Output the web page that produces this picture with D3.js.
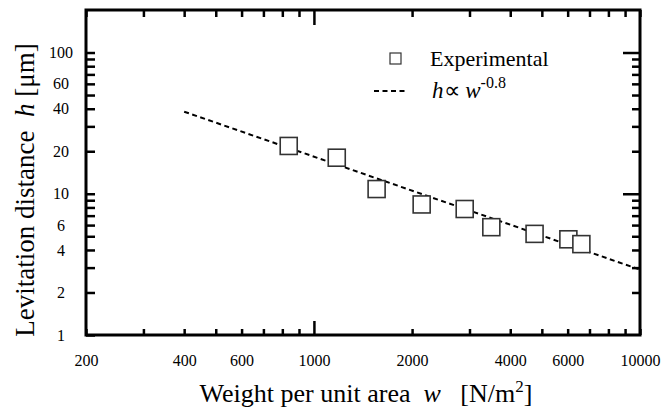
<!DOCTYPE html>
<html>
<head>
<meta charset="utf-8">
<script src="https://cdn.jsdelivr.net/npm/d3@7"></script>
<style>
  body { margin: 0; background: #fff; }
  svg { font-family: "Liberation Serif", "Times New Roman", serif; }
  text { white-space: pre; }
</style>
</head>
<body>
<div id="chart"></div>
<script>
// data
const weight = [837, 1175, 1557, 2140, 2900, 3500, 4750, 6030, 6610];
const distance = [21.8, 18.0, 10.8, 8.4, 7.8, 5.8, 5.2, 4.76, 4.4];

// fitted line h = C * w^-0.8
const fitW = [400, 10000];
const fitC = 4600;
const fitExp = -0.8;

const xTicks = [200, 300, 400, 500, 600, 700, 800, 900, 1000,
    2000, 3000, 4000, 5000, 6000, 7000, 8000, 9000, 10000];
const xLabels = [200, 400, 600, 1000, 2000, 4000, 6000, 10000];
const yTicks = [1, 2, 3, 4, 5, 6, 7, 8, 9, 10,
    20, 30, 40, 50, 60, 70, 80, 90, 100];
const yLabels = [1, 2, 4, 6, 10, 20, 40, 60, 100];

const W = 664, H = 412;
const margin = {top: 10, right: 24, bottom: 77, left: 86};
const width = W - margin.left - margin.right,
    height = H - margin.top - margin.bottom;

const svg = d3.select('#chart').append('svg')
    .attr('width', W)
    .attr('height', H);

const g = svg.append('g')
    .attr('transform', 'translate(' + margin.left + ',' + margin.top + ')');

const x = d3.scaleLog().domain([200, 10000]).range([0, width]);
const y = d3.scaleLog().domain([1, 200]).range([height, 0]);

function fmt(list) {
    return d => list.indexOf(d) >= 0 ? String(d) : '';
}

// bottom axis
const axBottom = g.append('g')
    .attr('transform', 'translate(0,' + height + ')')
    .call(d3.axisBottom(x).tickValues(xTicks).tickFormat(fmt(xLabels))
        .tickSize(-6).tickPadding(20));
axBottom.selectAll('.tick line').attr('y2', d => d === 1000 ? -14 : -6);

// top axis
const axTop = g.append('g')
    .call(d3.axisTop(x).tickValues(xTicks).tickFormat('').tickSize(-7));
axTop.selectAll('.tick line').attr('y2', d => d === 1000 ? 15 : 7);

// left axis
const axLeft = g.append('g')
    .call(d3.axisLeft(y).tickValues(yTicks).tickFormat(fmt(yLabels))
        .tickSize(-9).tickPadding(25));
axLeft.selectAll('.tick text').attr('text-anchor', 'middle');

// right axis
const axRight = g.append('g')
    .attr('transform', 'translate(' + width + ',0)')
    .call(d3.axisRight(y).tickValues(yTicks.slice(1)).tickFormat('').tickSize(-8));
axRight.selectAll('.tick line').attr('x2', d => (d === 10 || d === 100) ? -17 : -8);

g.selectAll('.domain').remove();
g.selectAll('.tick line').attr('stroke', '#000').attr('stroke-width', 2.5);
g.selectAll('.tick text')
    .attr('fill', '#000')
    .style('font-size', '16px')
    .style('font-family', '"Liberation Serif", serif');

// frame
g.append('rect')
    .attr('width', width)
    .attr('height', height)
    .attr('fill', 'none')
    .attr('stroke', '#000')
    .attr('stroke-width', 3);

// fit line
const line = d3.line()
    .x(d => x(d))
    .y(d => y(fitC * Math.pow(d, fitExp)));

g.append('path')
    .datum(fitW)
    .attr('d', line)
    .attr('fill', 'none')
    .attr('stroke', '#000')
    .attr('stroke-width', 2)
    .attr('stroke-dasharray', '5,3.5');

// experimental points
const s = 17;
g.selectAll('rect.pt')
    .data(weight)
    .enter()
    .append('rect')
    .attr('class', 'pt')
    .attr('x', (d, i) => x(d) - s / 2)
    .attr('y', (d, i) => y(distance[i]) - s / 2)
    .attr('width', s)
    .attr('height', s)
    .attr('fill', '#fff')
    .attr('stroke', '#333')
    .attr('stroke-width', 1.6);

// legend
const legend = svg.append('g');
legend.append('rect')
    .attr('x', 390).attr('y', 53)
    .attr('width', 11).attr('height', 11)
    .attr('fill', '#fff')
    .attr('stroke', '#333')
    .attr('stroke-width', 1.2);
legend.append('text')
    .attr('x', 430).attr('y', 66)
    .style('font-size', '22px')
    .text('Experimental');
legend.append('line')
    .attr('x1', 374).attr('x2', 408)
    .attr('y1', 91).attr('y2', 91)
    .attr('stroke', '#000')
    .attr('stroke-width', 2)
    .attr('stroke-dasharray', '5,3.5');
const fitText = legend.append('text')
    .attr('x', 432).attr('y', 98)
    .style('font-size', '23px');
fitText.append('tspan').style('font-style', 'italic').text('h');
fitText.append('tspan').text('\u221D ');
fitText.append('tspan').style('font-style', 'italic').text('w');
fitText.append('tspan').attr('dy', -10).style('font-size', '16px').text('-0.8');

// axis titles
const xTitle = svg.append('text')
    .attr('x', 366).attr('y', 402)
    .attr('text-anchor', 'middle')
    .style('font-size', '26px');
xTitle.append('tspan').text('Weight per unit area  ');
xTitle.append('tspan').style('font-style', 'italic').text('w');
xTitle.append('tspan').text('   [N/m');
xTitle.append('tspan').attr('dy', -10).style('font-size', '17px').text('2');
xTitle.append('tspan').attr('dy', 10).text(']');

const yTitle = svg.append('text')
    .attr('transform', 'translate(34,190) rotate(-90)')
    .attr('text-anchor', 'middle')
    .style('font-size', '27px');
yTitle.append('tspan').text('Levitation distance  ');
yTitle.append('tspan').style('font-style', 'italic').text('h');
yTitle.append('tspan').text(' [\u03BCm]');
</script>
</body>
</html>
